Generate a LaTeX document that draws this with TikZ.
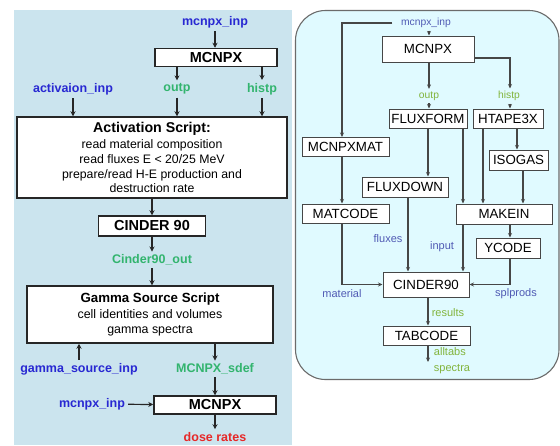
\documentclass[tikz,border=0pt]{standalone}
\usepackage{fontspec}
\setmainfont{Liberation Sans}
\usetikzlibrary{arrows.meta,calc}
\definecolor{leftbg}{RGB}{203,228,238}
\definecolor{rightbg}{RGB}{224,250,255}
\definecolor{lblue}{RGB}{40,40,210}
\definecolor{lgreen}{RGB}{50,180,110}
\definecolor{rblue}{RGB}{80,90,180}
\definecolor{rgreen}{RGB}{130,180,60}
\definecolor{lred}{RGB}{230,40,40}
\definecolor{rline}{RGB}{70,70,70}
\begin{document}
\begin{tikzpicture}[x=1pt,y=-1pt,
  lbox/.style={draw=black!85, line width=1.5pt, fill=white, inner sep=0pt,
    font=\fontsize{14.5}{17}\selectfont\bfseries},
  ltxt/.style={inner sep=3pt, font=\fontsize{12.5}{15}\selectfont\bfseries},
  larr/.style={-{Stealth[length=5pt,width=5pt]}, line width=1.2pt, black!85},
  rbox/.style={draw=rline, line width=1pt, fill=white, inner sep=0pt,
    font=\fontsize{13.3}{16}\selectfont},
  rtxt/.style={inner sep=3pt, font=\fontsize{11}{13}\selectfont},
  rsm/.style={inner sep=2.5pt, font=\fontsize{10.3}{12}\selectfont},
  rarr/.style={-{Stealth[length=4.5pt,width=4pt]}, line width=1.1pt, rline}]
\useasboundingbox (0,0) rectangle (560,445);
% panels
\fill[leftbg] (14,10) rectangle (292,445);
\filldraw[fill=rightbg, draw=rline!80, line width=1.1pt, rounded corners=30pt] (295.5,10.5) rectangle (559,379.5);

% ---------- left panel ----------
\node[ltxt, text=lblue] (lmin) at (215,22) {mcnpx\_inp};
\node[lbox, minimum width=122pt, minimum height=18pt] (mcnpxA) at (216,57.5) {MCNPX};
\node[ltxt, text=lblue] (actinp) at (73,89) {activaion\_inp};
\node[ltxt, text=lgreen] (outp) at (177,89) {outp};
\node[ltxt, text=lgreen] (histp) at (262,89) {histp};
\node[lbox, minimum width=270pt, minimum height=81pt, align=center,
  font=\fontsize{12.3}{14.7}\selectfont] (act) at (152,157.5)
  {{\fontsize{14.2}{14.7}\selectfont\bfseries Activation Script:}\\[2pt]
   read material composition\\ read fluxes E < 20/25 MeV\\
   prepare/read H-E production and\\ destruction rate};
\node[lbox, minimum width=107pt, minimum height=20pt] (cinder) at (152,226) {CINDER 90};
\node[ltxt, text=lgreen] (c90out) at (152,260) {Cinder90\_out};
\node[lbox, minimum width=246pt, minimum height=57pt, align=center,
  font=\fontsize{12.4}{15}\selectfont] (gamma) at (150,314.5)
  {{\fontsize{13.3}{15}\selectfont\bfseries Gamma Source Script}\\[1pt]
   cell identities and volumes\\ gamma spectra};
\node[ltxt, text=lblue] (gsinp) at (79,369) {gamma\_source\_inp};
\node[ltxt, text=lgreen] (sdef) at (215,369) {MCNPX\_sdef};
\node[lbox, minimum width=122pt, minimum height=18pt] (mcnpxB) at (215,405) {MCNPX};
\node[ltxt, text=lblue] (lminB) at (92,404) {mcnpx\_inp};
\node[ltxt, text=lred] (dose) at (215,437) {dose rates};

\draw[larr] (lmin) -- (lmin |- mcnpxA.north);
\draw[larr] (mcnpxA.south -| outp) -- (outp);
\draw[larr] (mcnpxA.south -| histp) -- (histp);
\draw[larr] (actinp) -- (actinp |- act.north);
\draw[larr] (outp) -- (outp |- act.north);
\draw[larr] (histp) -- (histp |- act.north);
\draw[larr] (act.south -| cinder) -- (cinder);
\draw[larr] (cinder) -- (c90out);
\draw[larr] (c90out) -- (c90out |- gamma.north);
\draw[larr] (gsinp) -- (gsinp |- gamma.south);
\draw[larr] (sdef |- gamma.south) -- (sdef);
\draw[larr] (sdef) -- (sdef |- mcnpxB.north);
\draw[larr] (lminB) -- (mcnpxB);
\draw[larr] (mcnpxB) -- (dose);

% ---------- right panel ----------
\node[rsm, text=rblue] (rmin) at (426,23) {mcnpx\_inp};
\node[rbox, minimum width=92pt, minimum height=26pt] (rmcnpx) at (428,49) {MCNPX};
\node[rsm, text=rgreen] (routp) at (429,96) {outp};
\node[rsm, text=rgreen] (rhistp) at (509,96) {histp};
\node[rbox, minimum width=78pt, minimum height=19pt] (fluxform) at (428,118.5) {FLUXFORM};
\node[rbox, minimum width=70pt, minimum height=19pt] (htape) at (508,118.5) {HTAPE3X};
\node[rbox, minimum width=87pt, minimum height=19pt] (mcnpxmat) at (345.5,147) {MCNPXMAT};
\node[rbox, minimum width=59pt, minimum height=20pt] (isogas) at (518.5,160) {ISOGAS};
\node[rbox, minimum width=86pt, minimum height=20pt] (fluxdown) at (405,187) {FLUXDOWN};
\node[rbox, minimum width=87pt, minimum height=19pt] (matcode) at (345.5,213.5) {MATCODE};
\node[rbox, minimum width=96pt, minimum height=20pt] (makein) at (504,214) {MAKEIN};
\node[rbox, minimum width=64pt, minimum height=20pt] (ycode) at (508,248) {YCODE};
\node[rbox, minimum width=86pt, minimum height=25pt] (cinderR) at (426,284.5) {CINDER90};
\node[rbox, minimum width=87pt, minimum height=19pt] (tabcode) at (426.5,335.5) {TABCODE};

\node[rtxt, text=rblue] (fluxes) at (388,239) {fluxes};
\node[rtxt, text=rblue] (input) at (442,247) {input};
\node[rtxt, text=rblue] (material) at (342,294) {material};
\node[rtxt, text=rblue] (splprods) at (516,294) {splprods};
\node[rtxt, text=rgreen] (results) at (448,313) {results};
\node[rtxt, text=rgreen, align=left, font=\fontsize{11}{16}\selectfont] (alltabs) at (452,361) {alltabs\\spectra};

\coordinate (xmat) at (342,23);
\coordinate (xin) at (429,0);
\coordinate (xhist) at (510,58);
\coordinate (xfd) at (428,0);
\coordinate (xfm) at (463,0);
\coordinate (xhl) at (483,0);
\coordinate (xhi) at (517,0);
\coordinate (xiso) at (523,0);
\coordinate (xflux) at (408,0);
\coordinate (xyc) at (510,0);
\coordinate (xtab) at (428,0);
\coordinate (tabend) at (428,362);

\draw[rarr] (rmin.south -| xin) -- (rmcnpx.north -| xin);
\draw[rarr, shorten <=6pt] (rmin.west) -- (xmat) -- (xmat |- mcnpxmat.north);
\draw[rarr] (rmcnpx.south -| xin) -- (routp.north -| xin);
\draw[rarr] (routp.south -| xin) -- (fluxform.north -| xin);
\draw[rarr] (rmcnpx.east |- xhist) -- (xhist) -- (rhistp.north -| xhist);
\draw[rarr] (rhistp.south -| xhist) -- (htape.north -| xhist);
\draw[rarr] (fluxform.south -| xfd) -- (fluxdown.north -| xfd);
\draw[rarr] (fluxform.south -| xfm) -- (makein.north -| xfm);
\draw[rarr] (htape.south -| xhl) -- (makein.north -| xhl);
\draw[rarr] (htape.south -| xhi) -- (isogas.north -| xhi);
\draw[rarr] (isogas.south -| xiso) -- (makein.north -| xiso);
\draw[rarr] (mcnpxmat.south -| xmat) -- (matcode.north -| xmat);
\draw[rarr] (matcode.south -| xmat) -- (xmat |- cinderR.west) -- (cinderR.west);
\draw[rarr] (fluxdown.south -| xflux) -- (cinderR.north -| xflux);
\draw[rarr] (makein.south -| xfm) -- (cinderR.north -| xfm);
\draw[rarr] (makein.south -| xyc) -- (ycode.north -| xyc);
\draw[rarr] (ycode.south -| xyc) -- (xyc |- cinderR.east) -- (cinderR.east);
\draw[rarr] (cinderR.south -| xtab) -- (tabcode.north -| xtab);
\draw[rarr] (tabcode.south -| xtab) -- (tabend);
\end{tikzpicture}
\end{document}
